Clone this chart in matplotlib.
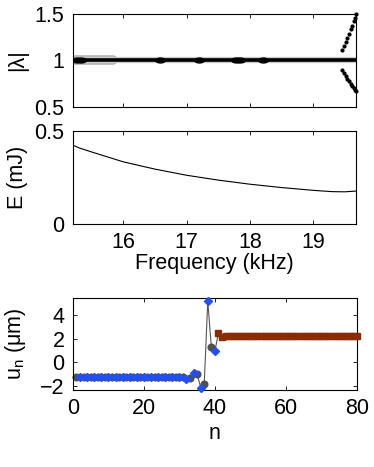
import matplotlib
matplotlib.use('Agg')
import matplotlib.pyplot as plt
from matplotlib.path import Path
from matplotlib.transforms import Affine2D

plt.rcParams['font.family'] = ['Liberation Sans', 'DejaVu Sans']
plt.rcParams['mathtext.fontset'] = 'custom'
plt.rcParams['mathtext.rm'] = 'Liberation Sans'
plt.rcParams['mathtext.it'] = 'Liberation Sans'

# |lambda| vs frequency (kHz)
lam_freq = [15.2, 19.68]
lam_one = [1.0, 1.0]
blob_freq = [15.26, 15.33, 16.58, 17.2, 17.78, 17.84, 18.2]
blob_lam = [1.0, 1.0, 1.0, 1.0, 1.0, 1.0, 1.0]
halo_freq = [15.2, 15.84]
split_freq = [19.46, 19.49, 19.52, 19.54, 19.57, 19.60, 19.62, 19.64, 19.66, 19.68]
split_upper = [1.11, 1.16, 1.20, 1.245, 1.29, 1.335, 1.37, 1.42, 1.46, 1.50]
split_lower = [0.90, 0.862, 0.833, 0.803, 0.775, 0.749, 0.730, 0.704, 0.685, 0.667]

# energy vs frequency
e_freq = [15.2, 15.3, 15.5, 16.0, 16.5, 17.0, 17.5, 18.0, 18.5, 19.0, 19.3, 19.5, 19.68]
e_mj = [0.425, 0.41, 0.388, 0.335, 0.296, 0.263, 0.237, 0.215, 0.197, 0.182, 0.175, 0.174, 0.178]

# displacement profile
n_all = list(range(1, 81))
u_left = [-1.2] * 31 + [-1.38, -1.27, -0.87, -0.93, -2.1, -1.82, 5.15, 1.3, 0.93]
u_right = [2.48, 2.1] + [2.2] * 38
u_all = u_left + u_right
n_odd = n_all[0:40:2]
u_odd = u_left[0:40:2]
n_even = n_all[1:40:2]
u_even = u_left[1:40:2]
n_tail = n_all[40:]

# wide ellipse marker for the blobs on the |lambda| = 1 line
ellipse = Path.unit_circle().transformed(Affine2D().scale(2.0, 1.0))

fs = 15.5
fig = plt.figure(figsize=(3.74, 4.67), dpi=100)
ax1 = fig.add_axes([0.195, 0.771, 0.757, 0.199])
ax2 = fig.add_axes([0.195, 0.520, 0.757, 0.199])
ax3 = fig.add_axes([0.195, 0.165, 0.759, 0.197])

for ax in (ax1, ax2, ax3):
    ax.tick_params(direction='in', top=True, right=True, length=3, width=0.6,
                   labelsize=fs, pad=6)
    for s in ax.spines.values():
        s.set_linewidth(0.8)

# top panel
ax1.plot(halo_freq, [1, 1], color='#b8b8b8', lw=7, solid_capstyle='round')
ax1.plot(lam_freq, lam_one, color='#c8c8c8', lw=4.5)
ax1.plot(lam_freq, lam_one, color='black', lw=2.6)
ax1.plot(blob_freq, blob_lam, ls='none', marker=ellipse, color='black', ms=7)
ax1.plot(split_freq, split_upper, 'o', color='black', ms=2, clip_on=False)
ax1.plot(split_freq, split_lower, 'o', color='black', ms=2, clip_on=False)
ax1.set_xlim(15.2, 19.68)
ax1.set_ylim(0.5, 1.5)
ax1.set_xticks([16, 17, 18, 19])
ax1.set_xticklabels([])
ax1.set_yticks([0.5, 1, 1.5])
ax1.set_yticklabels(['0.5', '1', '1.5'])
ax1.set_ylabel('|λ|', fontsize=fs)
ax1.yaxis.set_label_coords(-0.16, 0.5)

# middle panel
ax2.plot(e_freq, e_mj, color='black', lw=0.8)
ax2.set_xlim(15.2, 19.68)
ax2.set_ylim(0, 0.5)
ax2.set_xticks([16, 17, 18, 19])
ax2.set_yticks([0, 0.5])
ax2.set_yticklabels(['0', '0.5'])
ax2.set_xlabel('Frequency (kHz)', fontsize=fs, labelpad=0)
ax2.set_ylabel('E (mJ)', fontsize=fs)
ax2.yaxis.set_label_coords(-0.16, 0.5)

# bottom panel
ax3.plot(n_all, u_all, color='#555555', lw=0.8, zorder=1, clip_on=False)
ax3.plot(n_odd, u_odd, 'o', color='#505050', ms=4.8, zorder=2, clip_on=False)
ax3.plot(n_even, u_even, 'D', color='#1f4fff', ms=4.2, zorder=3, clip_on=False)
ax3.plot(n_tail, u_right, 's', color='#8a2c02', ms=3.8, zorder=3, clip_on=False)
ax3.set_xlim(0, 80)
ax3.set_ylim(-2.3, 5.4)
ax3.set_xticks([0, 20, 40, 60, 80])
ax3.set_yticks([-2, 0, 2, 4])
ax3.set_xlabel('n', fontsize=fs, labelpad=3)
ax3.set_ylabel(r'$\mathregular{u_n}$ (μm)', fontsize=fs)
ax3.yaxis.set_label_coords(-0.16, 0.5)

fig.savefig('out.png', dpi=100)
